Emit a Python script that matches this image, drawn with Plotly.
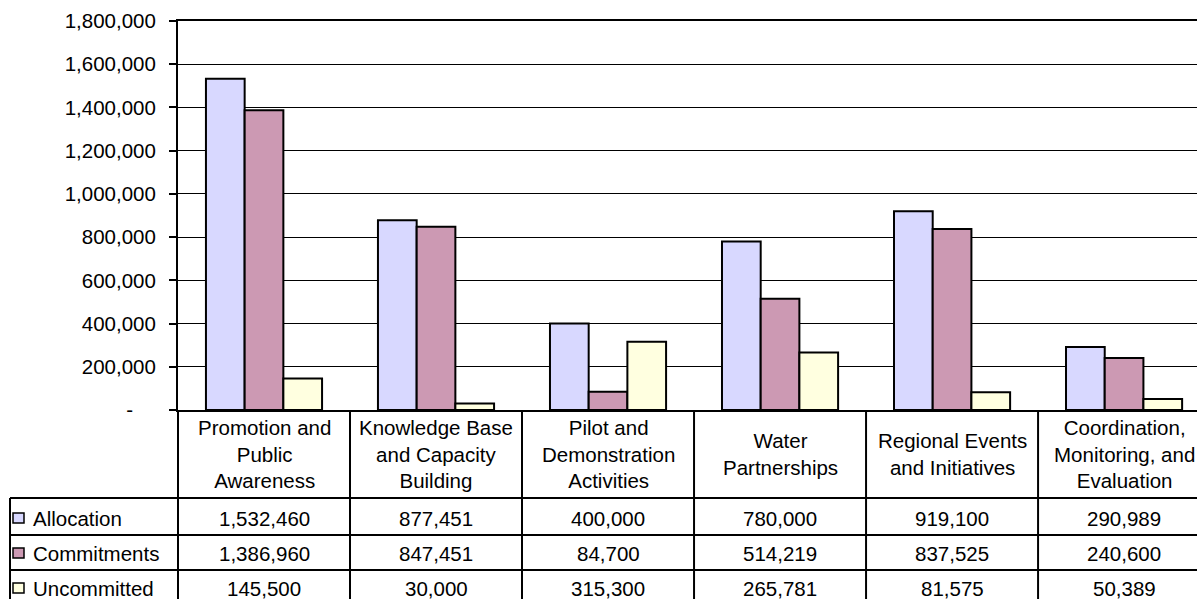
import plotly.graph_objects as go

# ---------------- data ----------------
categories = [
    "Promotion and<br>Public<br>Awareness",
    "Knowledge Base<br>and Capacity<br>Building",
    "Pilot and<br>Demonstration<br>Activities",
    "Water<br>Partnerships",
    "Regional Events<br>and Initiatives",
    "Coordination,<br>Monitoring, and<br>Evaluation",
]
series_names = ["Allocation", "Commitments", "Uncommitted"]
allocation = [1532460, 877451, 400000, 780000, 919100, 290989]
commitments = [1386960, 847451, 84700, 514219, 837525, 240600]
uncommitted = [145500, 30000, 315300, 265781, 81575, 50389]
y_tick_values = [0, 200000, 400000, 600000, 800000, 1000000, 1200000, 1400000, 1600000, 1800000]
y_tick_labels = ["-\u00a0\u00a0\u00a0\u00a0", "200,000", "400,000", "600,000", "800,000", "1,000,000",
                 "1,200,000", "1,400,000", "1,600,000", "1,800,000"]
colors = ["#D8D8FF", "#CC99B3", "#FFFFE0"]

# ---------------- layout geometry ----------------
W, H = 1197, 599
L, R, T, B = 178, 1197, 21, 410
X_MIN, X_MAX = -0.5, 5.424
FONT = "Liberation Sans, Arial, sans-serif"
FS = 20.5


def px_x(px):
    return (px - L) / (R - L)


def px_y(py):
    return (B - py) / (B - T)


def cat_x(v):
    return (v - X_MIN) / (X_MAX - X_MIN)


series_values = [allocation, commitments, uncommitted]
x_idx = list(range(len(categories)))

fig = go.Figure()
for name, vals, col in zip(series_names, series_values, colors):
    fig.add_trace(go.Bar(
        x=x_idx, y=vals, name=name,
        marker=dict(color=col, line=dict(color="black", width=2)),
        showlegend=False,
    ))

shapes = []
annotations = []
line_style = dict(color="black", width=2)

header_mid = 454
row_lines = [498, 535, 570]
row_mids = [518, 553, 588]
bottom = 602

for i in range(len(categories) + 1):
    xp = cat_x(i - 0.5)
    if xp <= 1.0:
        shapes.append(dict(type="line", xref="paper", yref="paper",
                           x0=xp, x1=xp, y0=px_y(B), y1=px_y(bottom), line=line_style))
shapes.append(dict(type="line", xref="paper", yref="paper",
                   x0=px_x(10), x1=px_x(10), y0=px_y(row_lines[0]), y1=px_y(bottom), line=line_style))
for yl in row_lines:
    shapes.append(dict(type="line", xref="paper", yref="paper",
                       x0=px_x(10), x1=1.0, y0=px_y(yl), y1=px_y(yl), line=line_style))

for i, c in enumerate(categories):
    annotations.append(dict(x=i, xref="x", y=px_y(header_mid), yref="paper", text=c,
                            showarrow=False, xanchor="center", yanchor="middle",
                            font=dict(family=FONT, size=FS, color="black")))

for r, (name, vals, col) in enumerate(zip(series_names, series_values, colors)):
    ym = row_mids[r]
    shapes.append(dict(type="rect", xref="paper", yref="paper",
                       x0=px_x(13), x1=px_x(24), y0=px_y(ym + 5), y1=px_y(ym - 5),
                       fillcolor=col, line=dict(color="black", width=1.5)))
    annotations.append(dict(x=px_x(31), xref="paper", y=px_y(ym), yref="paper", text=name,
                            showarrow=False, xanchor="left", yanchor="middle",
                            font=dict(family=FONT, size=FS, color="black")))
    for i, v in enumerate(vals):
        annotations.append(dict(x=i, xref="x", y=px_y(ym), yref="paper", text=f"{v:,}",
                                showarrow=False, xanchor="center", yanchor="middle",
                                font=dict(family=FONT, size=FS, color="black")))

fig.update_layout(
    width=W, height=H,
    margin=dict(l=L, r=W - R, t=T, b=H - B, pad=0),
    paper_bgcolor="white", plot_bgcolor="white",
    barmode="group", bargap=0.325, bargroupgap=0,
    font=dict(family=FONT, size=FS, color="black"),
    xaxis=dict(range=[X_MIN, X_MAX], showticklabels=False, ticks="", showgrid=False,
               zeroline=False, showline=True, linecolor="black", linewidth=2, mirror=True),
    yaxis=dict(range=[0, 1800000], tickvals=y_tick_values, ticktext=y_tick_labels,
               ticks="outside", ticklen=7, tickwidth=2, tickcolor="black",
               showline=True, linecolor="black", linewidth=2,
               showgrid=True, gridcolor="black", gridwidth=1, zeroline=False,
               ticklabelstandoff=9, tickfont=dict(family=FONT, size=FS, color="black")),
    shapes=shapes, annotations=annotations,
)

fig.write_html(
    "out.html",
    config={"displayModeBar": False},
    post_script="document.documentElement.style.margin='0';"
                "document.documentElement.style.overflow='hidden';"
                "document.body.style.margin='0';"
                "document.body.style.overflow='hidden';",
)
